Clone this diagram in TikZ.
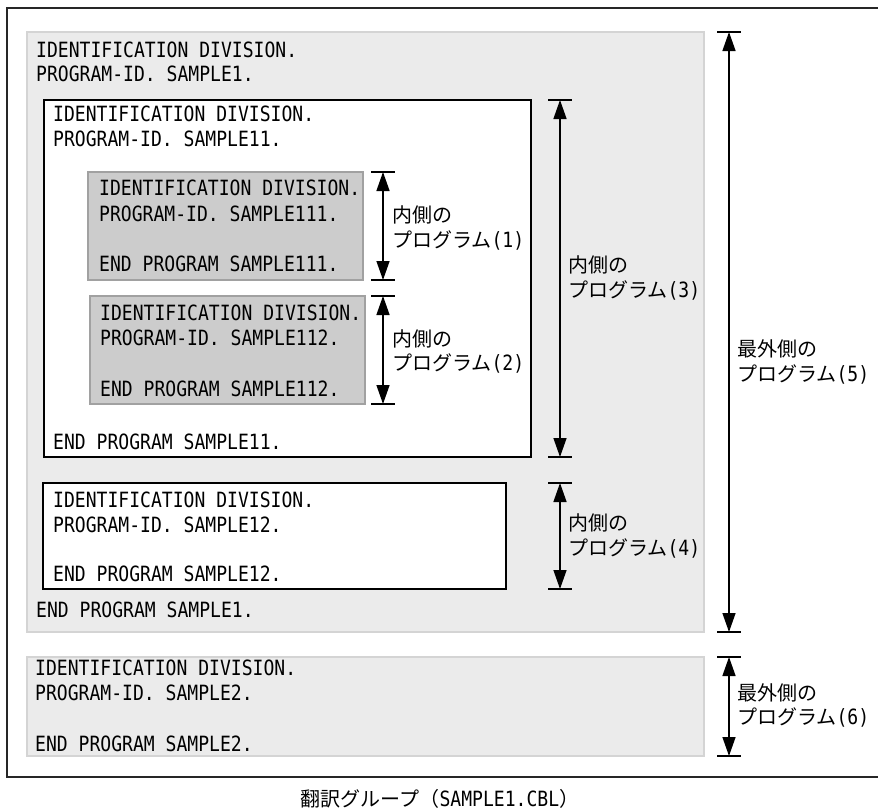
\documentclass[tikz,border=0pt]{standalone}
\usepackage{fontspec}
\newfontfamily\codefont[FakeStretch=0.86]{DejaVu Sans Mono}
\newfontfamily\jpfont{Noto Sans CJK JP}
\newcommand\cdsz{\codefont\fontsize{21}{24}\selectfont}
\newcommand\jpsz{\jpfont\fontsize{20}{24}\selectfont}
\usetikzlibrary{arrows.meta}
\begin{document}
\begin{tikzpicture}[x=1pt,y=-1pt,
  code/.style={anchor=base west, inner sep=0pt, font=\cdsz},
  lab/.style={anchor=base west, inner sep=0pt, font=\jpsz},
  frameline/.style={draw=black!85, line width=1.8pt},
  outerbox/.style={draw=black!17, fill=black!8, line width=1.5pt, anchor=north west, inner sep=0pt, outer sep=0pt},
  whitebox/.style={draw=black, fill=white, line width=1.4pt, anchor=north west, inner sep=0pt, outer sep=0pt},
  graybox/.style={draw=black!37, fill=black!20, line width=1.4pt, anchor=north west, inner sep=0pt, outer sep=0pt},
  dim/.style={line width=1.4pt, {Triangle[length=19pt,width=13pt]}-{Triangle[length=19pt,width=13pt]}},
  tickline/.style={line width=1.8pt}
]
\path[use as bounding box] (0,0) rectangle (878,811);

% outer frame
\coordinate (f1) at (878,8);
\coordinate (f2) at (7,8);
\coordinate (f3) at (7,777);
\coordinate (f4) at (878,777);
\draw[frameline] (f1) -- (f2) -- (f3) -- (f4);

% boxes
\node[outerbox, minimum width=677pt, minimum height=600pt] (p1) at (27,32) {};
\node[whitebox, minimum width=487pt, minimum height=357pt] (p11) at (44,100) {};
\node[graybox, minimum width=275pt, minimum height=108pt] (p111) at (88,172) {};
\node[graybox, minimum width=275pt, minimum height=108pt] (p112) at (90,296) {};
\node[whitebox, minimum width=463pt, minimum height=106pt] (p12) at (43,483) {};
\node[outerbox, minimum width=677pt, minimum height=99pt] (p2) at (27,657) {};

% code texts
\node[code] (t1a) at (36,57) {IDENTIFICATION DIVISION.};
\node[code] (t1b) at (36,81) {PROGRAM-ID. SAMPLE1.};
\node[code] (t1c) at (36,617) {END PROGRAM SAMPLE1.};

\node[code] (t11a) at (53,121) {IDENTIFICATION DIVISION.};
\node[code] (t11b) at (53,146) {PROGRAM-ID. SAMPLE11.};
\node[code] (t11c) at (53,449) {END PROGRAM SAMPLE11.};

\node[code] (t111a) at (99,195) {IDENTIFICATION DIVISION.};
\node[code] (t111b) at (99,221) {PROGRAM-ID. SAMPLE111.};
\node[code] (t111c) at (99,271) {END PROGRAM SAMPLE111.};

\node[code] (t112a) at (100,320) {IDENTIFICATION DIVISION.};
\node[code] (t112b) at (100,345) {PROGRAM-ID. SAMPLE112.};
\node[code] (t112c) at (100,396) {END PROGRAM SAMPLE112.};

\node[code] (t12a) at (53,507) {IDENTIFICATION DIVISION.};
\node[code] (t12b) at (53,532) {PROGRAM-ID. SAMPLE12.};
\node[code] (t12c) at (53,581) {END PROGRAM SAMPLE12.};

\node[code] (t2a) at (35,675) {IDENTIFICATION DIVISION.};
\node[code] (t2b) at (35,700) {PROGRAM-ID. SAMPLE2.};
\node[code] (t2c) at (35,751) {END PROGRAM SAMPLE2.};

% dimension arrows
\foreach \n/\x/\ya/\yb in {d1/383/172/280, d2/383/296/404, d3/560/100/457, d4/560/483/589, d5/729/32/632, d6/729/657/756}{
  \coordinate (\n t) at (\x,\ya);
  \coordinate (\n b) at (\x,\yb);
  \coordinate (\n tl) at (\x-12,\ya);
  \coordinate (\n tr) at (\x+12,\ya);
  \coordinate (\n bl) at (\x-12,\yb);
  \coordinate (\n br) at (\x+12,\yb);
  \draw[dim] (\n t) -- (\n b);
  \draw[tickline] (\n tl) -- (\n tr);
  \draw[tickline] (\n bl) -- (\n br);
}

% labels
\node[lab] (l1a) at (392,222) {内側の};
\node[lab] (l1b) at (392,247) {プログラム{\cdsz(1)}};
\node[lab] (l2a) at (392,346) {内側の};
\node[lab] (l2b) at (392,370) {プログラム{\cdsz(2)}};
\node[lab] (l3a) at (568,272) {内側の};
\node[lab] (l3b) at (568,297) {プログラム{\cdsz(3)}};
\node[lab] (l4a) at (568,530) {内側の};
\node[lab] (l4b) at (568,555) {プログラム{\cdsz(4)}};
\node[lab] (l5a) at (737,356) {最外側の};
\node[lab] (l5b) at (737,381) {プログラム{\cdsz(5)}};
\node[lab] (l6a) at (737,700) {最外側の};
\node[lab] (l6b) at (737,724) {プログラム{\cdsz(6)}};

% caption
\node[anchor=base, inner sep=0pt] (cap) at (440,806) {{\jpsz 翻訳グループ（}{\cdsz SAMPLE1.CBL}{\jpsz ）}};
\end{tikzpicture}
\end{document}
